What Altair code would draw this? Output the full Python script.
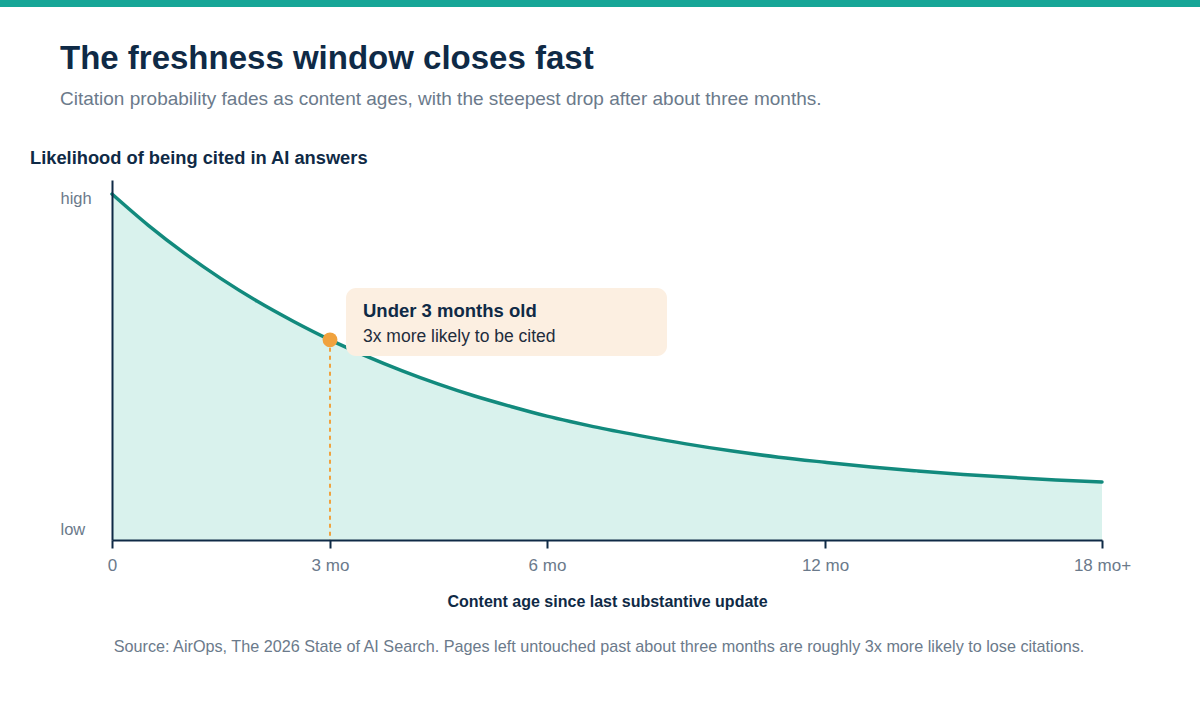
import altair as alt
import pandas as pd

# ---- data ----
months = [0, 0.5, 1, 1.5, 2, 2.5, 3, 3.5, 4, 4.5, 5, 5.5, 6, 6.5,
          7, 8, 9, 10, 11, 12, 13, 14, 15, 16, 17, 18]
likelihood = [96.1, 87.4, 79.6, 72.6, 66.3, 60.7, 55.6, 51.1, 47.0, 43.3, 40.0, 37.1, 34.4, 32.9,
              31.5, 29.0, 26.7, 24.7, 23.0, 21.6, 20.3, 19.2, 18.2, 17.4, 16.7, 16.1]

tick_months = [0, 3, 6, 12, 18]
tick_positions = [0, 218, 435, 713, 990]
y_ticks = [3, 95]

marker_month = [3]
marker_value = [55.6]

title_text = "The freshness window closes fast"
subtitle_text = "Citation probability fades as content ages, with the steepest drop after about three months."
y_title_text = "Likelihood of being cited in AI answers"
x_title_text = "Content age since last substantive update"
note_title = "Under 3 months old"
note_body = "3x more likely to be cited"
source_text = ("Source: AirOps, The 2026 State of AI Search. Pages left untouched past about "
               "three months are roughly 3x more likely to lose citations.")

# ---- styles ----
FONT = "Liberation Sans"
NAVY = "#0f2a46"
GRAY = "#6b7a8b"
TEAL_BAR = "#17a697"
TEAL_LINE = "#128a7d"
TEAL_FILL = "#d9f2ed"
ORANGE = "#f0a23e"
PEACH = "#fcefe1"

curve = pd.DataFrame({"month": months, "value": likelihood})
marker = pd.DataFrame({"month": marker_month, "value": marker_value})
one = pd.DataFrame({"k": [0]})

x_scale = alt.Scale(domain=tick_months, range=tick_positions, nice=False, zero=False)
y_scale = alt.Scale(domain=[0, 100], nice=False)

x_axis = alt.Axis(
    values=tick_months,
    labelExpr="datum.value == 0 ? '0' : (datum.value == 18 ? '18 mo+' : datum.value + ' mo')",
    title=x_title_text, titleFont=FONT, titleFontSize=16, titleFontWeight="bold",
    titleColor=NAVY, titlePadding=20,
    labelFont=FONT, labelFontSize=17, labelColor=GRAY, labelPadding=9,
    tickSize=8, tickColor=NAVY, tickWidth=2,
    domainColor=NAVY, domainWidth=2, grid=False, labelFlush=False, zindex=2,
)
y_axis = alt.Axis(
    values=y_ticks,
    labelExpr="datum.value > 50 ? 'high' : 'low'",
    title=None, labelFont=FONT, labelFontSize=16.5, labelColor=GRAY,
    labelAlign="left", labelPadding=52, ticks=False,
    domainColor=NAVY, domainWidth=2, grid=False, zindex=2,
)

area = alt.Chart(curve).mark_area(color=TEAL_FILL, opacity=1, interpolate="monotone").encode(
    x=alt.X("month:Q", scale=x_scale, axis=x_axis),
    y=alt.Y("value:Q", scale=y_scale, axis=y_axis),
)
line = alt.Chart(curve).mark_line(color=TEAL_LINE, strokeWidth=3.5, interpolate="monotone",
                                  strokeCap="round").encode(
    x=alt.X("month:Q", scale=x_scale),
    y=alt.Y("value:Q", scale=y_scale),
)
rule = alt.Chart(marker).mark_rule(color=ORANGE, strokeWidth=2, strokeDash=[4, 4]).encode(
    x=alt.X("month:Q", scale=x_scale),
    y=alt.Y("value:Q", scale=y_scale),
    y2=alt.datum(0),
)
dot = alt.Chart(marker).mark_circle(color=ORANGE, size=220, opacity=1).encode(
    x=alt.X("month:Q", scale=x_scale),
    y=alt.Y("value:Q", scale=y_scale),
)

top_bar = alt.Chart(one).mark_rect(color=TEAL_BAR).encode(
    x=alt.value(-112), x2=alt.value(1088), y=alt.value(-180), y2=alt.value(-173)
)
note_box = alt.Chart(one).mark_rect(color=PEACH, cornerRadius=10).encode(
    x=alt.value(234), x2=alt.value(555), y=alt.value(108), y2=alt.value(176)
)


def label(text, x, y, size, color, weight="normal", align="left", baseline="alphabetic"):
    return alt.Chart(one).mark_text(
        text=text, font=FONT, fontSize=size, fontWeight=weight, color=color,
        align=align, baseline=baseline,
    ).encode(x=alt.value(x), y=alt.value(y))


texts = [
    label(title_text, -52, -111, 33, NAVY, "bold"),
    label(subtitle_text, -52, -75, 19, GRAY),
    label(y_title_text, -82, -16, 18.3, NAVY, "bold"),
    label(note_title, 251, 137, 18.5, NAVY, "bold"),
    label(note_body, 251, 162, 17.5, "#1f2d3d"),
    label(source_text, 487, 472, 16.2, GRAY, align="center"),
]

chart = alt.layer(top_bar, area, line, rule, dot, note_box, *texts).properties(
    width=990, height=360,
    autosize=alt.AutoSizeParams(type="none"),
    padding={"left": 112, "top": 180, "right": 98, "bottom": 165},
    background="white",
).configure_view(stroke=None)

chart.save("out.html", embed_options={"renderer": "svg", "actions": False})
